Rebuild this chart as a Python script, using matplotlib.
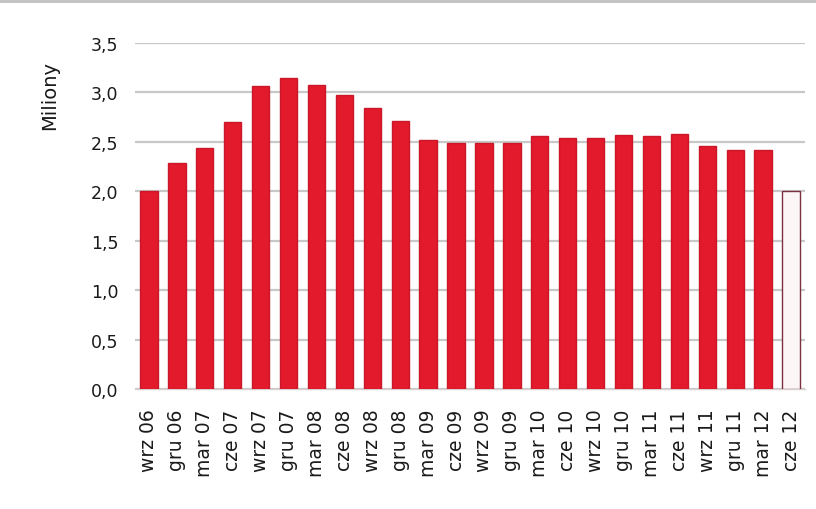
import matplotlib
matplotlib.use("Agg")
import matplotlib.pyplot as plt
from matplotlib.patches import Rectangle

categories = ["wrz 06", "gru 06", "mar 07", "cze 07", "wrz 07", "gru 07", "mar 08", "cze 08",
              "wrz 08", "gru 08", "mar 09", "cze 09", "wrz 09", "gru 09", "mar 10", "cze 10",
              "wrz 10", "gru 10", "mar 11", "cze 11", "wrz 11", "gru 11", "mar 12", "cze 12"]
values = [2.00, 2.29, 2.44, 2.70, 3.07, 3.15, 3.08, 2.97,
          2.84, 2.71, 2.52, 2.49, 2.49, 2.49, 2.56, 2.54,
          2.54, 2.57, 2.56, 2.58, 2.46, 2.42, 2.42, 2.00]
yticks = [0.0, 0.5, 1.0, 1.5, 2.0, 2.5, 3.0, 3.5]
ytick_labels = ["0,0", "0,5", "1,0", "1,5", "2,0", "2,5", "3,0", "3,5"]

W, H = 816, 510
fig = plt.figure(figsize=(W / 100, H / 100), dpi=100)
fig.patch.set_facecolor("white")

# top grey band
fig.add_artist(Rectangle((0, 1 - 4 / H), 1, 4 / H, transform=fig.transFigure,
                         facecolor="#c4c4c4", edgecolor="none"))

ax = fig.add_axes([135 / W, 1 - 390 / H, (805 - 135) / W, (390 - 44) / H])
ax.set_facecolor("white")

x = list(range(len(categories)))
colors = ["#e3192c"] * (len(values) - 1) + ["#fdf6f6"]
edges = ["#c8182a"] * (len(values) - 1) + ["#7a3040"]
ax.bar(x, values, width=0.62, color=colors, edgecolor=edges, linewidth=1.0, zorder=3)

ax.set_xlim(-0.5, len(categories) - 0.5)
ax.set_ylim(0, 3.5)
ax.set_yticks(yticks)
ax.set_yticklabels(ytick_labels, fontsize=12.5, color="#1a1a1a")
ax.set_xticks(x)
ax.set_xticklabels(categories, rotation=90, fontsize=13.5, color="#1a1a1a")
ax.tick_params(axis="both", length=0)
ax.tick_params(axis="y", pad=12)
ax.tick_params(axis="x", pad=14)

ax.yaxis.grid(True, color="#c8c8c8", linewidth=1.6, zorder=0)
for s in ["top", "right", "left"]:
    ax.spines[s].set_visible(False)
ax.spines["bottom"].set_color("#d8d0d0")
ax.spines["bottom"].set_linewidth(1.0)

fig.text(50 / W, 1 - 95 / H, "Miliony", rotation=90, ha="center", va="center",
         fontsize=14, color="#1a1a1a")

fig.savefig("out.png", dpi=100)
